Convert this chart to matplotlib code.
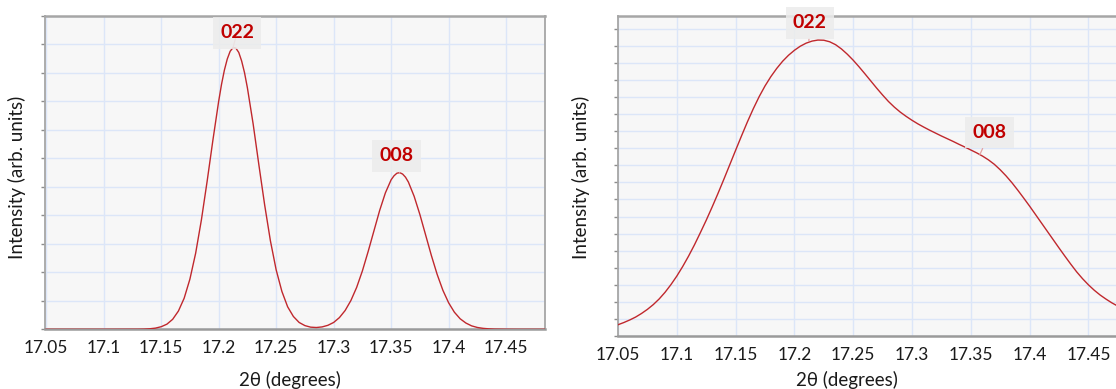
import matplotlib
matplotlib.use('Agg')
import matplotlib.pyplot as plt

plt.rcParams['font.family'] = ['Lato', 'DejaVu Sans']

# ---------------- data ----------------
x_left = [17.05, 17.06, 17.07, 17.08, 17.09, 17.10, 17.11, 17.12, 17.13,
          17.135, 17.14, 17.145, 17.15, 17.155, 17.16, 17.165, 17.17, 17.175,
          17.18, 17.185, 17.19, 17.195, 17.2, 17.2025, 17.205, 17.2075, 17.21,
          17.2125, 17.215, 17.2175, 17.22, 17.2225, 17.225, 17.23, 17.235,
          17.24, 17.245, 17.25, 17.255, 17.26,
          17.265, 17.27, 17.275, 17.28, 17.285, 17.29, 17.295, 17.3, 17.305,
          17.31, 17.315, 17.32, 17.325, 17.33, 17.335, 17.34, 17.345, 17.35,
          17.3525, 17.355, 17.3575, 17.36, 17.3625, 17.365, 17.37, 17.375,
          17.38, 17.385, 17.39,
          17.395, 17.4, 17.405, 17.41, 17.415, 17.42, 17.425, 17.43, 17.435,
          17.44, 17.45, 17.46, 17.47, 17.48, 17.485]
y_left = [0.0, 0.0, 0.0, 0.0, 0.0, 0.0, 0.001, 0.002, 0.003,
          0.007, 0.018, 0.041, 0.09, 0.18, 0.35, 0.64, 1.09, 1.76,
          2.67, 3.84, 5.20, 6.64, 8.00, 8.60, 9.10, 9.49, 9.76,
          9.89, 9.87, 9.72, 9.42, 9.01, 8.48, 7.21, 5.77,
          4.37, 3.11, 2.09, 1.33, 0.79,
          0.45, 0.24, 0.13, 0.075, 0.063, 0.084, 0.14, 0.24, 0.41,
          0.66, 1.01, 1.47, 2.05, 2.73, 3.45, 4.17, 4.79, 5.25,
          5.39, 5.48, 5.50, 5.45, 5.34, 5.17, 4.67, 4.03,
          3.31, 2.59, 1.93,
          1.37, 0.93, 0.60, 0.37, 0.22, 0.12, 0.064, 0.033, 0.016,
          0.007, 0.002, 0.0, 0.0, 0.0, 0.0]

x_right = [17.05, 17.055, 17.06, 17.065, 17.07, 17.075, 17.08, 17.085, 17.09, 17.095,
           17.10, 17.105, 17.11, 17.115, 17.12, 17.125, 17.13, 17.135, 17.14, 17.145,
           17.15, 17.155, 17.16, 17.165, 17.17, 17.175, 17.18, 17.185, 17.19, 17.195,
           17.20, 17.205, 17.21, 17.215, 17.22, 17.225, 17.23, 17.235, 17.24, 17.245,
           17.25, 17.255, 17.26, 17.265, 17.27, 17.275, 17.28, 17.285, 17.29, 17.295,
           17.30, 17.305, 17.31, 17.315, 17.32, 17.325, 17.33, 17.335, 17.34, 17.345,
           17.35, 17.355, 17.36, 17.365, 17.37, 17.375, 17.38, 17.385, 17.39, 17.395,
           17.40, 17.405, 17.41, 17.415, 17.42, 17.425, 17.43, 17.435, 17.44, 17.445,
           17.45, 17.455, 17.46, 17.465, 17.47, 17.475, 17.48]
y_right = [0.66, 0.79, 0.94, 1.11, 1.32, 1.56, 1.84, 2.17, 2.56, 3.01,
           3.51, 4.07, 4.68, 5.34, 6.05, 6.78, 7.55, 8.35, 9.18, 10.03,
           10.88, 11.72, 12.54, 13.31, 14.02, 14.65, 15.20, 15.68, 16.10, 16.45,
           16.74, 16.98, 17.16, 17.28, 17.34, 17.33, 17.24, 17.07, 16.82, 16.51,
           16.16, 15.77, 15.36, 14.94, 14.52, 14.12, 13.74, 13.41, 13.12, 12.87,
           12.64, 12.43, 12.24, 12.06, 11.89, 11.72, 11.56, 11.40, 11.23, 11.07,
           10.90, 10.73, 10.54, 10.32, 10.06, 9.74, 9.38, 8.98, 8.54, 8.08,
           7.61, 7.12, 6.63, 6.14, 5.65, 5.16, 4.68, 4.21, 3.76, 3.36,
           3.00, 2.68, 2.40, 2.16, 1.94, 1.75, 1.58]

xticks = [17.05, 17.1, 17.15, 17.2, 17.25, 17.3, 17.35, 17.4, 17.45]
xtick_labels = ['17.05', '17.1', '17.15', '17.2', '17.25', '17.3', '17.35', '17.4', '17.45']

peak_names = ['022', '008']
peak_x_left = [17.2125, 17.3575]
peak_y_left = [9.89, 5.50]
peak_x_right = [17.2123, 17.3577]
peak_y_right = [17.30, 10.63]

xlabel = '2θ (degrees)'
ylabel = 'Intensity (arb. units)'

# ---------------- figure ----------------
W, H = 1116, 389
fig = plt.figure(figsize=(W / 100, H / 100), dpi=100)


def rect(l, t, r, b):
    return [l / W, 1 - b / H, (r - l) / W, (b - t) / H]


ax1 = fig.add_axes(rect(45, 16, 545, 329.3))
ax2 = fig.add_axes(rect(618, 16, 1206, 336))

LINE = '#C0282D'
LABEL_RED = '#C00000'
TEXT = '#1A1A1A'


def style(ax, ymax):
    ax.set_facecolor('#F7F7F7')
    ax.set_ylim(0, ymax)
    ax.set_yticks(range(0, int(ymax) + 1))
    ax.set_yticklabels([])
    ax.set_xticks(xticks)
    ax.set_xticklabels(xtick_labels)
    ax.grid(True, color='#DCE6F8', lw=1.0)
    ax.set_axisbelow(True)
    ax.tick_params(axis='y', length=3, width=1, color='#8C8C8C', direction='out')
    ax.tick_params(axis='x', length=0, pad=8, labelsize=12.5, labelcolor=TEXT)
    for s in ['left', 'right']:
        ax.spines[s].set_color('#A6A6A6')
        ax.spines[s].set_linewidth(1.3)
    ax.spines['top'].set_color('#A6A6A6')
    ax.spines['top'].set_linewidth(1.8)
    ax.spines['bottom'].set_color('#9A9A9A')
    ax.spines['bottom'].set_linewidth(1.8)


style(ax1, 11)
style(ax2, 18.75)
ax1.set_xlim(17.049, 17.4838)
ax2.set_xlim(17.05, 17.55)

ax1.plot(x_left, y_left, color=LINE, lw=1.0, solid_joinstyle='round', zorder=3)
ax2.plot(x_right, y_right, color=LINE, lw=1.0, solid_joinstyle='round', zorder=3)


def label_peaks(ax, xs, ys, offsets):
    for name, px, py, (dx, dy) in zip(peak_names, xs, ys, offsets):
        ax.annotate(name, xy=(px, py), xytext=(dx, dy), textcoords='offset pixels',
                    ha='center', va='center', fontsize=14, fontweight='bold',
                    color=LABEL_RED,
                    bbox=dict(boxstyle='square,pad=0.38', fc='#ECECEC', ec='none', alpha=0.85),
                    arrowprops=dict(arrowstyle='-', color='#E3A3A3', lw=0.9,
                                    shrinkA=0, shrinkB=0),
                    annotation_clip=False, zorder=6)


label_peaks(ax1, peak_x_left, peak_y_left, [(4, 15), (-3, 17)])
label_peaks(ax2, peak_x_right, peak_y_right, [(1, 18), (10, 22)])

ax1.set_xlabel(xlabel, fontsize=13.5, color=TEXT)
ax1.xaxis.set_label_coords((290 - 45) / 500, -(380 - 329.3) / 313.3)
ax1.xaxis.label.set_va('center')
ax1.set_ylabel(ylabel, fontsize=13.5, color=TEXT)
ax1.yaxis.set_label_coords((17 - 45) / 500, (329.3 - 177) / 313.3)
ax1.yaxis.label.set_va('center')

ax2.set_xlabel(xlabel, fontsize=13.5, color=TEXT)
ax2.xaxis.set_label_coords((847 - 618) / 588, -(380 - 336) / 320)
ax2.xaxis.label.set_va('center')
ax2.set_ylabel(ylabel, fontsize=13.5, color=TEXT)
ax2.yaxis.set_label_coords((581 - 618) / 588, (336 - 177) / 320)
ax2.yaxis.label.set_va('center')

fig.savefig('out.png', dpi=100, facecolor='white')
